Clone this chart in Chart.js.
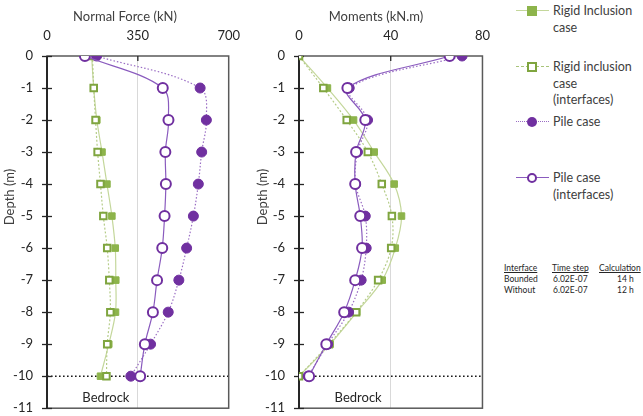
<!DOCTYPE html>
<html>
<head>
<meta charset="utf-8">
<script src="https://cdn.jsdelivr.net/npm/chart.js@4.4.1/dist/chart.umd.min.js"></script>
<style>
  html, body { margin: 0; padding: 0; background: #ffffff; }
  #page { position: relative; width: 643px; height: 416px; overflow: hidden; font-family: Lato, "Open Sans", sans-serif; color: #404040; }
  canvas { position: absolute; top: 0; }
  #cForce { left: 0; }
  #cMoment { left: 240px; }
  .lg-line { position: absolute; width: 33px; height: 0; }
  .lg-mark { position: absolute; box-sizing: border-box; }
  .lg-text { position: absolute; font-size: 12.5px; line-height: 16.5px; color: #404040; white-space: nowrap; }
  .tb { position: absolute; font-size: 8.5px; line-height: 10px; color: #262626; white-space: nowrap; transform: translateY(-50%); }
  .tb.h { text-decoration: underline; }
</style>
</head>
<body>
<div id="page">
  <canvas id="cForce" width="240" height="416"></canvas>
  <canvas id="cMoment" width="250" height="416"></canvas>

  <!-- legend -->
  <div class="lg-line" style="left:516px; top:10px; border-top:1.5px solid #C4D79B;"></div>
  <div class="lg-mark" style="left:527px; top:6px; width:10px; height:10px; background:#8DB44B;"></div>
  <div class="lg-text" style="left:553px; top:3px;">Rigid Inclusion<br>case</div>

  <div class="lg-line" style="left:516px; top:66px; border-top:1.5px dashed #A9C47A;"></div>
  <div class="lg-mark" style="left:527px; top:62px; width:10px; height:10px; background:#fff; border:2px solid #7FA53F;"></div>
  <div class="lg-text" style="left:553px; top:59px;">Rigid inclusion<br>case<br>(interfaces)</div>

  <div class="lg-line" style="left:516px; top:121px; border-top:1.5px dotted #9A6DC4;"></div>
  <div class="lg-mark" style="left:527px; top:117px; width:10px; height:10px; border-radius:50%; background:#7030A0;"></div>
  <div class="lg-text" style="left:553px; top:114px;">Pile case</div>

  <div class="lg-line" style="left:516px; top:177px; border-top:1.5px solid #8A5BBE;"></div>
  <div class="lg-mark" style="left:527px; top:173px; width:10px; height:10px; border-radius:50%; background:#fff; border:2px solid #7030A0;"></div>
  <div class="lg-text" style="left:553px; top:170px;">Pile case<br>(interfaces)</div>

  <!-- run summary table -->
  <div class="tb h" style="left:504px; top:268px;">Interface</div>
  <div class="tb h" style="left:552px; top:268px;">Time step</div>
  <div class="tb h" style="left:599px; top:268px;">Calculation</div>
  <div class="tb" style="left:504px; top:279px;">Bounded</div>
  <div class="tb" style="left:553px; top:279px;">6.02E-07</div>
  <div class="tb" style="left:617px; top:279px;">14 h</div>
  <div class="tb" style="left:504px; top:290px;">Without</div>
  <div class="tb" style="left:553px; top:290px;">6.02E-07</div>
  <div class="tb" style="left:617px; top:290px;">12 h</div>
</div>

<script>
// Depth of each result point (m)
const depth = [0, -1, -2, -3, -4, -5, -6, -7, -8, -9, -10];

// Normal force along the element (kN)
const forceRigid    = [172, 180, 192, 212, 231, 250, 263, 265, 264, 238, 206];
const forceRigidInt = [175, 180, 187, 195, 206, 217, 232, 240, 244, 232, 229];
const forcePile     = [191, 590, 614, 596, 583, 564, 538, 508, 467, 399, 323];
const forcePileInt  = [146, 446, 468, 456, 458, 453, 444, 424, 408, 377, 359];

// Bending moment along the element (kN.m)
const momentRigid    = [0, 12.4, 23.8, 32.8, 41.5, 44.7, 42.0, 36.3, 25.2, 13.6, 0];
const momentRigidInt = [0, 10.6, 20.8, 30.0, 36.1, 40.5, 40.2, 34.5, 24.9, 13.0, 0];
const momentPile     = [71.1, 21.9, 29.9, 25.5, 24.7, 28.9, 29.3, 27.1, 21.6, 12.5, 4.0];
const momentPileInt  = [65.7, 21.1, 28.9, 24.9, 24.5, 26.7, 27.5, 24.5, 19.7, 11.9, 4.4];

// Axis ticks
const forceTicks  = [0, 350, 700];
const momentTicks = [0, 40, 80];
const depthMin = -11, depthMax = 0;
const bedrockDepth = -10;

const seriesNames = ['Rigid Inclusion case', 'Rigid inclusion case (interfaces)', 'Pile case', 'Pile case (interfaces)'];
const FONT = 'Lato, "Open Sans", sans-serif';
const TEXT = '#262626';
const NONE = 'rgba(0,0,0,0)';

function points(values) {
  return depth.map((d, i) => ({ x: values[i], y: d }));
}

function makeDatasets(rigid, rigidInt, pile, pileInt) {
  return [
    { label: seriesNames[3], data: points(pileInt), order: 1,
      borderColor: '#8A5BBE', borderWidth: 1.2,
      pointStyle: 'circle', pointRadius: 5, pointBackgroundColor: '#ffffff',
      pointBorderColor: '#7030A0', pointBorderWidth: 2 },
    { label: seriesNames[2], data: points(pile), order: 2,
      borderColor: '#9A6DC4', borderWidth: 1.2, borderDash: [1.5, 2],
      pointStyle: 'circle', pointRadius: 5, pointBackgroundColor: '#7030A0',
      pointBorderColor: '#7030A0', pointBorderWidth: 1 },
    { label: seriesNames[1], data: points(rigidInt), order: 3,
      borderColor: '#B5CC88', borderWidth: 1.2, borderDash: [2, 2],
      pointStyle: 'rect', pointRadius: 4.6, pointBackgroundColor: '#ffffff',
      pointBorderColor: '#7FA53F', pointBorderWidth: 2 },
    { label: seriesNames[0], data: points(rigid), order: 4,
      borderColor: '#C4D79B', borderWidth: 1.2,
      pointStyle: 'rect', pointRadius: 4.6, pointBackgroundColor: '#8DB44B',
      pointBorderColor: '#8DB44B', pointBorderWidth: 1 }
  ].map(d => Object.assign(d, { showLine: true, tension: 0.35, fill: false }));
}

// Frame, depth ticks, bedrock line and panel labels
const panelDecor = {
  id: 'panelDecor',
  beforeDatasetsDraw(chart, args, opts) {
    const { ctx, chartArea: a, scales: { x, y } } = chart;
    ctx.save();

    // bedrock level
    const yb = y.getPixelForValue(bedrockDepth);
    ctx.strokeStyle = '#1a1a1a';
    ctx.lineWidth = 1.6;
    ctx.setLineDash([1.6, 2.4]);
    ctx.beginPath(); ctx.moveTo(a.left, yb); ctx.lineTo(a.right, yb); ctx.stroke();
    ctx.setLineDash([]);

    // plot frame
    ctx.strokeStyle = '#595959';
    ctx.lineWidth = 1.5;
    ctx.strokeRect(a.left, a.top, a.right - a.left, a.bottom - a.top);
    ctx.strokeStyle = '#262626';
    ctx.lineWidth = 2;
    ctx.beginPath(); ctx.moveTo(a.left, a.top); ctx.lineTo(a.left, a.bottom); ctx.stroke();

    // depth tick marks crossing the axis
    ctx.lineWidth = 1.3;
    for (let d = depthMin; d <= depthMax; d++) {
      const py = Math.round(y.getPixelForValue(d)) + 0.5;
      ctx.beginPath(); ctx.moveTo(a.left - 5, py); ctx.lineTo(a.left + 5, py); ctx.stroke();
    }
    // middle value tick on the top axis
    const mid = x.getPixelForValue(opts.midTick);
    ctx.beginPath(); ctx.moveTo(mid, a.top); ctx.lineTo(mid, a.top + 5); ctx.stroke();

    ctx.fillStyle = TEXT;
    ctx.textAlign = 'center';
    ctx.textBaseline = 'middle';
    ctx.font = '13px ' + FONT;
    ctx.fillText('Bedrock', x.getPixelForValue(opts.bedrockLabelX), y.getPixelForValue(-10.66));

    ctx.fillStyle = '#404040';
    ctx.fillText(opts.title, opts.titleX, 17);
    ctx.translate(opts.depthTitleX, 197);
    ctx.rotate(-Math.PI / 2);
    ctx.fillText('Depth (m)', 0, 0);
    ctx.restore();
  }
};

function makeChart(id, datasets, ticks, yWidth, decor) {
  return new Chart(document.getElementById(id), {
    type: 'scatter',
    data: { datasets },
    plugins: [panelDecor],
    options: {
      responsive: false,
      animation: false,
      devicePixelRatio: 1,
      layout: { padding: 0 },
      plugins: { legend: { display: false }, tooltip: { enabled: false }, panelDecor: decor },
      scales: {
        x: {
          type: 'linear', position: 'top',
          min: ticks[0], max: ticks[ticks.length - 1],
          afterFit(s) { s.height = 56; },
          afterBuildTicks(s) { s.ticks = ticks.map(v => ({ value: v })); },
          ticks: { padding: 0, color: TEXT, font: { family: FONT, size: 13 } },
          grid: {
            drawTicks: true, tickLength: 12, tickColor: NONE,
            color: c => (c.tick && c.tick.value === ticks[1]) ? '#D9D9D9' : NONE,
            lineWidth: 1
          },
          border: { display: false }
        },
        y: {
          type: 'linear', min: depthMin, max: depthMax,
          afterFit(s) { s.width = yWidth; },
          ticks: { stepSize: 1, padding: 0, color: TEXT, font: { family: FONT, size: 13 } },
          grid: { drawOnChartArea: false, drawTicks: true, tickLength: 14, tickColor: NONE },
          border: { display: false }
        }
      }
    }
  });
}

makeChart('cForce', makeDatasets(forceRigid, forceRigidInt, forcePile, forcePileInt),
  forceTicks, 47,
  { title: 'Normal Force (kN)', titleX: 125, depthTitleX: 10, bedrockLabelX: 227, midTick: 350 });

makeChart('cMoment', makeDatasets(momentRigid, momentRigidInt, momentPile, momentPileInt),
  momentTicks, 59,
  { title: 'Moments (kN.m)', titleX: 136, depthTitleX: 23, bedrockLabelX: 25.8, midTick: 40 });
</script>
</body>
</html>
